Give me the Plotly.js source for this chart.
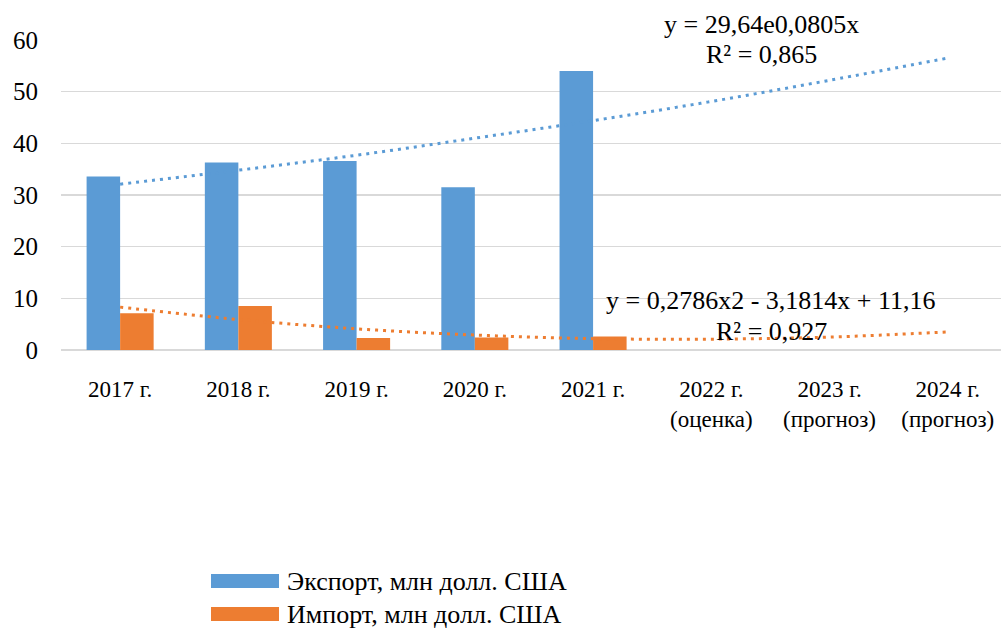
<!DOCTYPE html>
<html>
<head>
<meta charset="utf-8">
<script src="https://cdn.plot.ly/plotly-3.0.1.min.js"></script>
<style>html,body{margin:0;padding:0;background:#fff;}#chart{width:1001px;height:631px;}</style>
</head>
<body>
<div id="chart"></div>
<script>
// ---- data ----
const categories = ["2017 г.", "2018 г.", "2019 г.", "2020 г.", "2021 г.",
  "2022 г.<br>(оценка)", "2023 г.<br>(прогноз)", "2024 г.<br>(прогноз)"];
const exportValues = [33.6, 36.3, 36.6, 31.5, 54.0, null, null, null];
const importValues = [7.1, 8.5, 2.3, 2.4, 2.6, null, null, null];
const exportTrend = [32.1, 34.8, 37.7, 41.0, 44.4, 48.1, 52.2, 56.5];
const importTrend = [8.3, 5.9, 4.1, 2.9, 2.2, 2.1, 2.5, 3.5];
const seriesNames = ["Экспорт, млн долл. США", "Импорт, млн долл. США"];
const exportEq = ["y = 29,64e0,0805x", "R² = 0,865"];
const importEq = ["y = 0,2786x2 - 3,1814x + 11,16", "R² = 0,927"];
const yTicks = [0, 10, 20, 30, 40, 50, 60];

// ---- styling ----
const BLUE = "#5B9BD5", ORANGE = "#ED7D31";
const FONT = "'Liberation Serif', 'Times New Roman', 'DejaVu Serif', serif";
const W = 1001, H = 631;
const L = 61, R = 0, T = 40, B = 281;
const plotW = W - L - R, plotH = H - T - B;
const px = x => (x - L) / plotW;
const py = y => (H - B - y) / plotH;

const traces = [
  {type: "bar", x: categories, y: exportValues, name: seriesNames[0],
   marker: {color: BLUE}, showlegend: false, hoverinfo: "skip"},
  {type: "bar", x: categories, y: importValues, name: seriesNames[1],
   marker: {color: ORANGE}, showlegend: false, hoverinfo: "skip"},
  {type: "scatter", mode: "lines", x: categories, y: exportTrend,
   line: {color: BLUE, width: 3, dash: "3px,5px", shape: "spline"},
   showlegend: false, hoverinfo: "skip"},
  {type: "scatter", mode: "lines", x: categories, y: importTrend,
   line: {color: ORANGE, width: 3, dash: "3px,5px", shape: "spline"},
   showlegend: false, hoverinfo: "skip"}
];

const annFont = {family: FONT, size: 26, color: "#000"};
const annotations = [
  {text: exportEq[0], x: px(761), y: py(24)},
  {text: exportEq[1], x: px(761), y: py(54)},
  {text: importEq[0], x: px(771), y: py(300)},
  {text: importEq[1], x: px(771), y: py(331)}
].map(a => Object.assign({xref: "paper", yref: "paper", showarrow: false,
  xanchor: "center", yanchor: "middle", font: annFont}, a));

annotations.push(
  {text: seriesNames[0], xref: "paper", yref: "paper", x: px(285), y: py(581),
   xanchor: "left", yanchor: "middle", showarrow: false, font: annFont},
  {text: seriesNames[1], xref: "paper", yref: "paper", x: px(285), y: py(614),
   xanchor: "left", yanchor: "middle", showarrow: false, font: annFont}
);

const shapes = [
  {type: "rect", xref: "paper", yref: "paper", x0: px(211), x1: px(279),
   y0: py(588), y1: py(574), fillcolor: BLUE, line: {width: 0}},
  {type: "rect", xref: "paper", yref: "paper", x0: px(211), x1: px(279),
   y0: py(621), y1: py(607), fillcolor: ORANGE, line: {width: 0}}
];

const layout = {
  width: W, height: H,
  margin: {l: L, r: R, t: T, b: B, pad: 0},
  paper_bgcolor: "#fff", plot_bgcolor: "#fff",
  barmode: "group", bargap: 0.433, bargroupgap: 0,
  showlegend: false,
  font: {family: FONT, color: "#000"},
  xaxis: {
    type: "category", range: [-0.5, 7.45],
    showgrid: false, zeroline: false, showline: false,
    ticks: "", tickfont: {family: FONT, size: 23, color: "#000"},
    ticklabelstandoff: 23, fixedrange: true
  },
  yaxis: {
    range: [0, 60], tickvals: yTicks, ticktext: yTicks.map(String),
    showgrid: true, gridcolor: "#d9d9d9", gridwidth: 1.3,
    zeroline: true, zerolinecolor: "#d9d9d9", zerolinewidth: 2,
    showline: false, ticks: "",
    tickfont: {family: FONT, size: 25, color: "#000"},
    ticklabelstandoff: 22, fixedrange: true
  },
  annotations: annotations,
  shapes: shapes
};

Plotly.newPlot("chart", traces, layout, {displayModeBar: false, staticPlot: true});
</script>
</body>
</html>
